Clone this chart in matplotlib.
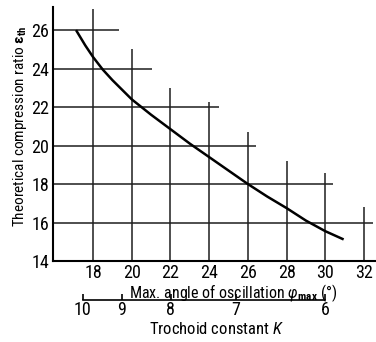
import numpy as np
import matplotlib
matplotlib.use("Agg")
import matplotlib.pyplot as plt

plt.rcParams['font.family'] = ['Roboto Condensed', 'DejaVu Sans']
plt.rcParams['mathtext.fontset'] = 'custom'
plt.rcParams['mathtext.rm'] = 'Roboto Condensed'
plt.rcParams['mathtext.it'] = 'Roboto Condensed:italic'
plt.rcParams['mathtext.bf'] = 'Roboto Condensed:bold'

# curve: max angle (deg) vs compression ratio
phi = [17.12, 17.6, 18.0, 18.5, 19.0, 20.0, 21.0, 22.0, 23.0, 24.0, 25.0, 26.0, 27.0, 28.0, 29.0, 30.0, 30.95]
eps = [26.0, 25.2, 24.6, 23.95, 23.4, 22.4, 21.6, 20.85, 20.1, 19.4, 18.7, 18.0, 17.35, 16.75, 16.1, 15.55, 15.12]

# staircase grid
vx = [18, 20, 22, 24, 26, 28, 30, 32]
vtop = [27.1, 25.0, 22.97, 22.28, 20.72, 19.2, 18.55, 16.8]
hy = [26, 24, 22, 20, 18, 16]
hend = [19.36, 21.03, 24.5, 26.42, 30.39, 32.45]

yticks = [14, 16, 18, 20, 22, 24, 26]
xticks = [18, 20, 22, 24, 26, 28, 30, 32]
kticks = [10, 9, 8, 7, 6]

xlo, xhi = 15.93, 32.57
ylo, yhi = 14, 27.2

fig = plt.figure(figsize=(3.76, 3.42), dpi=100)
ax = fig.add_axes([53/376, 81/342, 322/376, 254/342])
ax.set_xlim(xlo, xhi)
ax.set_ylim(ylo, yhi)

gc = '#1e1e1e'
ax.vlines(vx, ylo, vtop, color=gc, lw=1.1)
ax.hlines(hy, xlo, hend, color=gc, lw=1.1)
ax.plot(phi, eps, color='black', lw=1.8, solid_capstyle='butt')

for s in ['top', 'right']:
    ax.spines[s].set_visible(False)
for s in ['left', 'bottom']:
    ax.spines[s].set_linewidth(1.5)
    ax.spines[s].set_color('black')

ax.set_xticks(xticks)
ax.set_yticks(yticks)
ax.tick_params(length=0, labelsize=13, pad=3)
ax.tick_params(axis='x', pad=2)

ax.set_ylabel(r'Theoretical compression ratio $\mathbf{\epsilon}_{\mathbf{th}}$', fontsize=11)
ax.yaxis.set_label_coords(-0.075, 0.53)
ax.set_xlabel(r'Max. angle of oscillation $\varphi_{\mathbf{max}}$ (°)', fontsize=11.5, labelpad=0)
ax.xaxis.set_label_coords(0.559, -0.083)

def ang2k(a):
    return 3.0 / np.sin(np.radians(np.clip(a, 1, 89)))

def k2ang(k):
    return np.degrees(np.arcsin(np.clip(3.0 / np.asarray(k, float), -1, 1)))

sec = ax.secondary_xaxis(-0.1535, functions=(ang2k, k2ang))
sec.set_xticks(kticks)
sec.spines['bottom'].set_bounds(6, 10)
sec.spines['bottom'].set_linewidth(1.2)
sec.tick_params(direction='in', length=4, width=1.2, labelsize=13, pad=1)
fig.text(217/376, 1 - 321/342, r'Trochoid constant $K$', ha='center', va='top', fontsize=12)

fig.savefig('out.png', dpi=100)
